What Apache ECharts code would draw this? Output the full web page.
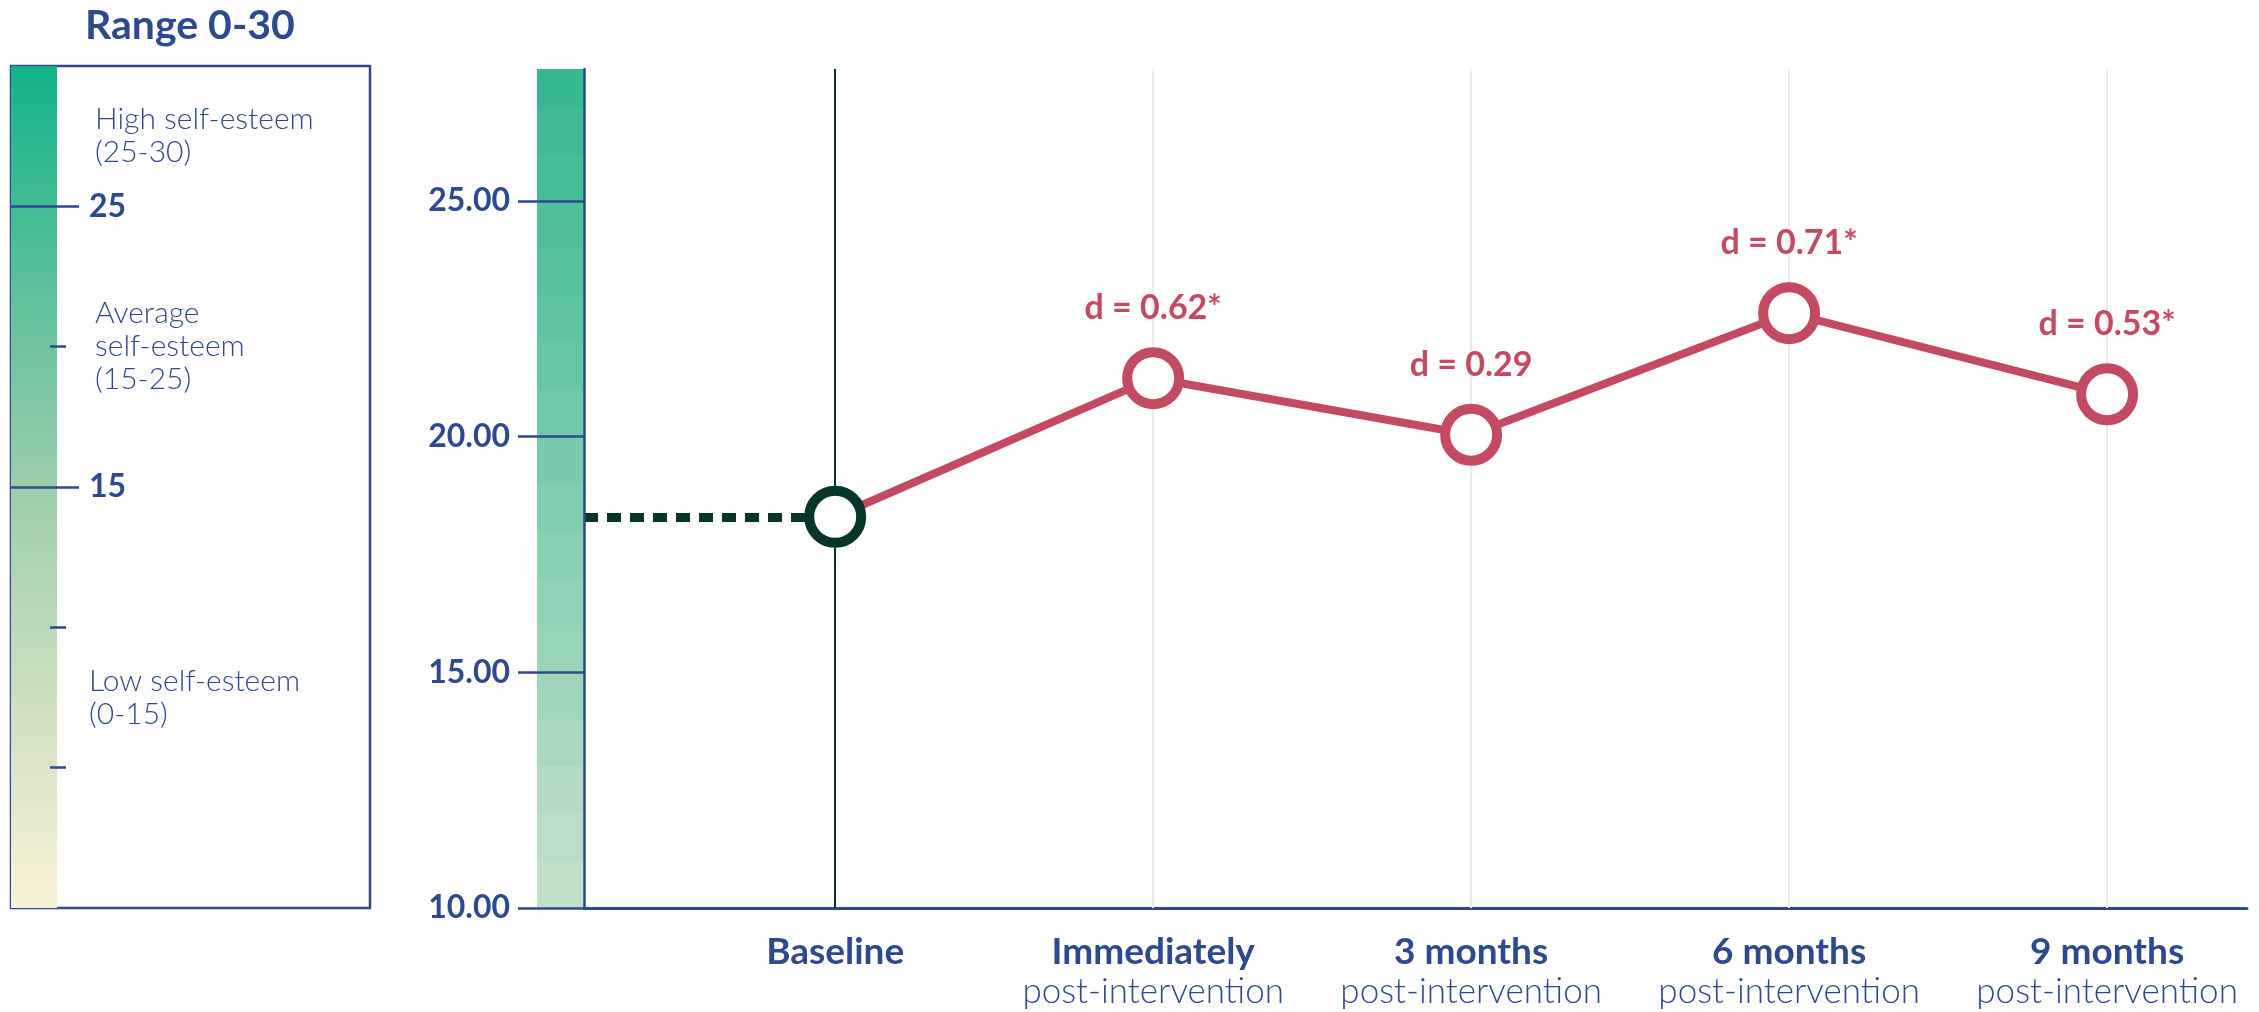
<!DOCTYPE html>
<html>
<head>
<meta charset="utf-8">
<script src="https://cdn.jsdelivr.net/npm/echarts@6/dist/echarts.min.js"></script>
<style>
  html, body { margin: 0; padding: 0; background: #ffffff; }
  #chart { width: 2259px; height: 1012px; }
</style>
</head>
<body>
<div id="chart"></div>
<script>
// Measurement points and their notes
const timepoints = ['Baseline', 'Immediately', '3 months', '6 months', '9 months'];
const timepointNotes = ['', 'post-intervention', 'post-intervention', 'post-intervention', 'post-intervention'];
// Mean self-esteem score at each point
const meanScores = [18.30, 21.24, 20.04, 22.62, 20.90];
// Cohen's d versus baseline (* = significant)
const effectSizes = [null, '0.62*', '0.29', '0.71*', '0.53*'];

// Score axis of the main plot
const scoreMin = 10;
const scoreMax = 27.8;
const scoreTicks = [10, 15, 20, 25];
// One shaded step per score point on the main axis
const shadeSteps = [11, 12, 13, 14, 15, 16, 17, 18, 19, 20, 21, 22, 23, 24, 25, 26, 27, 27.8];

// Full 0-30 range key
const rangeMin = 0;
const rangeMax = 30;
const bandNames = ['Low self-esteem', 'Average\nself-esteem', 'High self-esteem'];
const bandFrom = [0, 15, 25];
const bandTo = [15, 25, 30];
const rangeMajorTicks = [15, 25];
const rangeMinorTicks = [5, 10, 20];

const BLUE = '#2d4a8e';
const RED = '#c44a62';
const DARK = '#06362a';
const GRIDLINE = '#ebebf1';
const FONT = 'Lato, "Open Sans", sans-serif';

function mix(a, b, t) {
  const pa = [1, 3, 5].map(i => parseInt(a.substr(i, 2), 16));
  const pb = [1, 3, 5].map(i => parseInt(b.substr(i, 2), 16));
  return 'rgb(' + pa.map((v, k) => Math.round(v + (pb[k] - v) * t)).join(',') + ')';
}

// Shaded steps: drawn tallest first so each shorter bar covers the lower part
const stepSeries = shadeSteps.slice().reverse().map((top, idx, arr) => ({
  type: 'bar',
  xAxisIndex: 1,
  yAxisIndex: 1,
  barWidth: '100%',
  barGap: '-100%',
  silent: true,
  itemStyle: { color: mix('#c1e0c8', '#36b893', (arr.length - 1 - idx) / (arr.length - 1)) },
  data: [top]
}));

const xMin = -0.79;
const xMax = 4.44;

const bandMid = bandFrom.map((f, i) => (f + bandTo[i]) / 2);

const option = {
  animation: false,
  backgroundColor: '#ffffff',
  textStyle: { fontFamily: FONT },
  title: {
    text: 'Range 0-30',
    left: 80,
    top: 0,
    textStyle: { fontFamily: FONT, fontSize: 41, fontWeight: 'bold', color: BLUE }
  },
  grid: [
    { left: 584, right: 12, top: 69, bottom: 104 },                      // main plot
    { left: 537, width: 47, top: 69, bottom: 104 },                      // shaded score strip
    { left: 11, width: 46, top: 66, height: 842 },                       // range gradient
    { left: 11, width: 359, top: 66, height: 842, show: true,
      borderColor: BLUE, borderWidth: 2.5, backgroundColor: 'transparent' } // range frame
  ],
  xAxis: [
    {
      gridIndex: 0, type: 'value', min: xMin, max: xMax,
      axisLine: { show: true, onZero: false, lineStyle: { color: BLUE, width: 3 } },
      axisTick: { show: false },
      splitLine: { show: false },
      axisLabel: {
        customValues: [0, 1, 2, 3, 4],
        margin: 25,
        formatter: v => {
          const i = Math.round(v);
          return timepointNotes[i] ? '{b|' + timepoints[i] + '}\n{r|' + timepointNotes[i] + '}' : '{b|' + timepoints[i] + '}';
        },
        rich: {
          b: { fontFamily: FONT, fontSize: 37, fontWeight: 'bold', color: BLUE, lineHeight: 39 },
          r: { fontFamily: FONT, fontSize: 35, fontWeight: 300, color: BLUE, lineHeight: 39 }
        }
      }
    },
    { gridIndex: 1, type: 'category', data: ['scale'], show: false },
    { gridIndex: 2, type: 'category', data: ['range'], show: false },
    { gridIndex: 3, type: 'value', min: 0, max: 1, show: false }
  ],
  yAxis: [
    {
      gridIndex: 0, type: 'value', min: scoreMin, max: scoreMax, z: 10,
      axisLine: { show: true, onZero: false, lineStyle: { color: BLUE, width: 2.5 } },
      axisTick: { show: true, customValues: scoreTicks, length: 66, lineStyle: { color: BLUE, width: 2.5 } },
      splitLine: { show: false },
      axisLabel: {
        customValues: scoreTicks, margin: 74,
        formatter: v => v.toFixed(2),
        fontFamily: FONT, fontSize: 32, fontWeight: 'bold', color: BLUE
      }
    },
    { gridIndex: 1, type: 'value', min: scoreMin, max: scoreMax, show: false },
    {
      gridIndex: 2, type: 'value', min: rangeMin, max: rangeMax, position: 'left', z: 10,
      axisLine: { show: false },
      splitLine: { show: false },
      axisTick: { show: true, inside: true, customValues: rangeMajorTicks, length: 68, lineStyle: { color: BLUE, width: 2.5 } },
      axisLabel: {
        inside: true, customValues: rangeMajorTicks, margin: 78,
        fontFamily: FONT, fontSize: 32, fontWeight: 'bold', color: BLUE
      }
    },
    {
      gridIndex: 2, type: 'value', min: rangeMin, max: rangeMax, position: 'left', offset: -39, z: 10,
      axisLine: { show: false },
      splitLine: { show: false },
      axisTick: { show: true, inside: true, customValues: rangeMinorTicks, length: 16, lineStyle: { color: BLUE, width: 2.5 } },
      axisLabel: { show: false }
    },
    {
      gridIndex: 2, type: 'value', min: rangeMin, max: rangeMax, position: 'left', z: 10,
      axisLine: { show: false },
      splitLine: { show: false },
      axisTick: { show: false },
      axisLabel: {
        inside: true, customValues: bandMid, margin: 78,
        formatter: v => {
          const i = bandMid.indexOf(v);
          const txt = bandNames[i] + '\n(' + bandFrom[i] + '-' + bandTo[i] + ')';
          const style = i === 0 ? 't' : 'u';
          return txt.split('\n').map(s => '{' + style + '|' + s + '}').join('\n');
        },
        rich: {
          t: { fontFamily: FONT, fontSize: 30, fontWeight: 300, color: BLUE, lineHeight: 33 },
          u: { fontFamily: FONT, fontSize: 30, fontWeight: 300, color: BLUE, lineHeight: 33, padding: [0, 0, 0, 6] }
        }
      }
    },
    { gridIndex: 3, type: 'value', min: 0, max: 1, show: false }
  ],
  series: [
    // vertical guides at each time point and the dashed baseline reference
    {
      type: 'line',
      xAxisIndex: 0, yAxisIndex: 0,
      z: 1,
      silent: true,
      symbol: 'none',
      lineStyle: { opacity: 0 },
      data: timepoints.map((t, i) => [i, scoreMin]),
      markLine: {
        silent: true,
        symbol: 'none',
        label: { show: false },
        animation: false,
        data: timepoints.map((t, i) => ({
          xAxis: i,
          lineStyle: i === 0 ? { color: DARK, width: 2, type: 'solid' } : { color: GRIDLINE, width: 2, type: 'solid' }
        })).concat([[
          { coord: [xMin, meanScores[0]], lineStyle: { color: DARK, width: 9, type: [14, 9] } },
          { coord: [0, meanScores[0]] }
        ]])
      }
    },
    // mean scores
    {
      type: 'line',
      xAxisIndex: 0, yAxisIndex: 0,
      z: 5,
      symbol: 'circle',
      symbolSize: 52,
      lineStyle: { color: RED, width: 8 },
      itemStyle: { color: '#ffffff', borderColor: RED, borderWidth: 10 },
      label: {
        show: true,
        position: 'top',
        distance: 22,
        fontFamily: FONT, fontSize: 34, fontWeight: 'bold', color: RED,
        formatter: p => effectSizes[p.dataIndex] ? 'd = ' + effectSizes[p.dataIndex] : ''
      },
      data: meanScores.map((v, i) => i === 0
        ? { value: [i, v], itemStyle: { borderColor: DARK } }
        : { value: [i, v] })
    },
    // range key gradient
    {
      type: 'bar',
      xAxisIndex: 2, yAxisIndex: 2,
      barWidth: '100%',
      silent: true,
      itemStyle: {
        color: new echarts.graphic.LinearGradient(0, 0, 0, 1, [
          { offset: 0, color: '#12b38a' },
          { offset: 0.5, color: '#9ccdaa' },
          { offset: 1, color: '#faf2d6' }
        ])
      },
      data: [rangeMax]
    }
  ].concat(stepSeries)
};

const chart = echarts.init(document.getElementById('chart'), null, { renderer: 'canvas' });
chart.setOption(option);
</script>
</body>
</html>
